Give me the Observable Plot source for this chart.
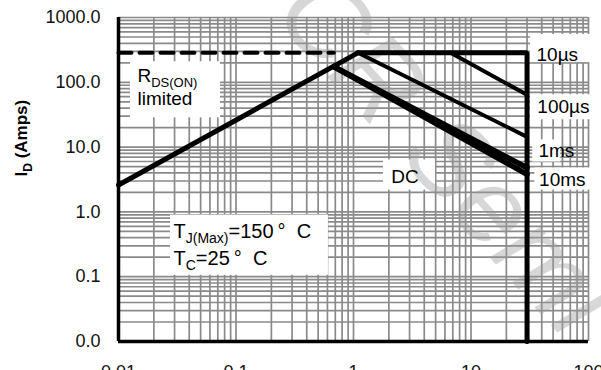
<!DOCTYPE html>
<html><head><meta charset="utf-8">
<script src="https://cdn.jsdelivr.net/npm/d3@7"></script>
<script src="https://cdn.jsdelivr.net/npm/@observablehq/plot@0.6"></script>
<style>
html,body{margin:0;padding:0;background:#fff;}
#chart svg{display:block;}
</style></head><body><div id="chart"></div>
<script>
// axis ticks
const xTicks = [0.01, 0.1, 1, 10, 100];
const xTickLabels = ["0.01", "0.1", "1", "10", "100"];
const yTicks = [0.01, 0.1, 1, 10, 100, 1000];
const yTickLabels = ["0.0", "0.1", "1.0", "10.0", "100.0", "1000.0"];
const yTitle = "I_{D} (Amps)";

// SOA boundary lines (V, A)
const rdsV = [0.01, 1.09];      const rdsI = [2.6, 285];
const limitV = [0.01, 0.68];    const limitI = [285, 285];
const us10V = [1.09, 30, 30];   const us10I = [285, 285, 0.01];
const us100V = [6.7, 30];       const us100I = [285, 64];
const ms1V = [1.09, 30];        const ms1I = [285, 14.4];
const ms10V = [0.68, 30];       const ms10I = [174, 4.8];
const dcV = [0.68, 30];         const dcI = [174, 3.8];

// annotation labels
const labelText = ["10µs", "100µs", "1ms", "10ms", "DC", "R_{DS(ON)}", "limited", "T_{J(Max)}=150\u2009°\u00a0\u00a0C", "T_{C}=25\u2009°\u00a0\u00a0C"];
const labelV = [36.1, 36.7, 37.5, 38, 2.1, 0.0145, 0.0145, 0.0294, 0.0294];
const labelI = [267, 41.9, 8.73, 3.1, 3.46, 126, 55.7, 0.505, 0.193];
const labelSize = [19, 19, 19, 19, 19, 19, 19, 20, 20];

// white label backgrounds
const boxV1 = [0.01265, 0.0277, 1.80, 32.1, 32.1, 33.5, 35];
const boxV2 = [0.0738, 0.612, 4.99, 115, 115, 58, 120];
const boxI1 = [208, 0.892, 6.34, 546, 64.3, 12.9, 4.76];
const boxI2 = [28.3, 0.105, 2.17, 201, 26.4, 5.9, 2.17];

const watermarkText = "CR Semi";

const grid = "#8a8a8a";
const xGrid = d3.scaleLog().domain([0.01, 100]).ticks();
const yGrid = d3.scaleLog().domain([0.01, 1000]).ticks();

const toPts = (vs, is) => vs.map((v, k) => ({v, i: is[k]}));
const labels = labelText.map((t, k) => ({t, v: labelV[k], i: labelI[k], s: labelSize[k]}));
const boxes = boxV1.map((v, k) => ({x1: v, x2: boxV2[k], y1: boxI1[k], y2: boxI2[k]}));

const font = "'Liberation Sans', Arial, sans-serif";

const chart = Plot.plot({
  width: 601, height: 370,
  marginLeft: 118, marginRight: 13, marginTop: 17, marginBottom: 29,
  style: {fontFamily: font, fontSize: "18px", background: "white", overflow: "visible", color: "#111"},
  x: {type: "log", domain: [0.01, 100]},
  y: {type: "log", domain: [0.01, 1000]},
  marks: [
    Plot.ruleX(xGrid, {stroke: grid, strokeWidth: 1.7}),
    Plot.ruleY(yGrid, {stroke: grid, strokeWidth: 1.7}),
    Plot.rect(boxes, {x1: "x1", x2: "x2", y1: "y1", y2: "y2", fill: "white"}),
    Plot.text([watermarkText], {x: [6.0], y: [7.5], rotate: 48, fontSize: 110, fill: "#9a9a9a", fillOpacity: 0.4, fontStyle: "italic"}),
    Plot.line(toPts(limitV, limitI), {x: "v", y: "i", stroke: "black", strokeWidth: 4, strokeDasharray: "13,8"}),
    Plot.line(toPts(rdsV, rdsI), {x: "v", y: "i", stroke: "black", strokeWidth: 5}),
    Plot.line(toPts(us10V, us10I), {x: "v", y: "i", stroke: "black", strokeWidth: 5, strokeLinejoin: "miter"}),
    Plot.line(toPts(us100V, us100I), {x: "v", y: "i", stroke: "black", strokeWidth: 4}),
    Plot.line(toPts(ms1V, ms1I), {x: "v", y: "i", stroke: "black", strokeWidth: 4}),
    Plot.line(toPts(ms10V, ms10I), {x: "v", y: "i", stroke: "black", strokeWidth: 5.5}),
    Plot.line(toPts(dcV, dcI), {x: "v", y: "i", stroke: "black", strokeWidth: 5.5}),
    Plot.ruleX([0.01], {stroke: "black", strokeWidth: 3.5}),
    Plot.ruleY([0.01], {stroke: "black", strokeWidth: 3.5}),
    Plot.text(labels, {x: "v", y: "i", text: "t", textAnchor: "start", fontSize: "s", fill: "black"}),
    Plot.axisX(xTicks, {tickSize: 0, tickPadding: 24, fontSize: 18, tickFormat: d => xTickLabels[xTicks.indexOf(d)], label: null}),
    Plot.axisY(yTicks, {tickSize: 0, tickPadding: 18, fontSize: 18, tickFormat: d => yTickLabels[yTicks.indexOf(d)], label: null}),
    Plot.text([yTitle], {frameAnchor: "left", rotate: -90, dx: -97, dy: -3, fontSize: 17, fontWeight: "bold", fill: "black"})
  ]
});

// render "_{...}" as subscript tspans
d3.select(chart).selectAll("text").each(function() {
  if (this.children.length) return;
  const s = this.textContent;
  if (!s.includes("_{")) return;
  const fs = parseFloat(this.getAttribute("font-size")) || parseFloat(this.parentNode.getAttribute("font-size")) || 18;
  const shift = Math.round(fs * 0.27);
  this.textContent = "";
  const re = /_\{([^}]*)\}/g;
  let last = 0, m, pending = 0;
  const add = (txt, sub) => {
    if (!txt) return;
    const ts = document.createElementNS("http://www.w3.org/2000/svg", "tspan");
    ts.textContent = txt;
    if (sub) { ts.setAttribute("font-size", Math.round(fs * 0.7)); ts.setAttribute("dy", shift); pending = shift; }
    else if (pending) { ts.setAttribute("dy", -pending); pending = 0; }
    this.appendChild(ts);
  };
  while ((m = re.exec(s))) { add(s.slice(last, m.index), false); add(m[1], true); last = re.lastIndex; }
  add(s.slice(last), false);
});

document.getElementById("chart").appendChild(chart);
</script></body></html>
